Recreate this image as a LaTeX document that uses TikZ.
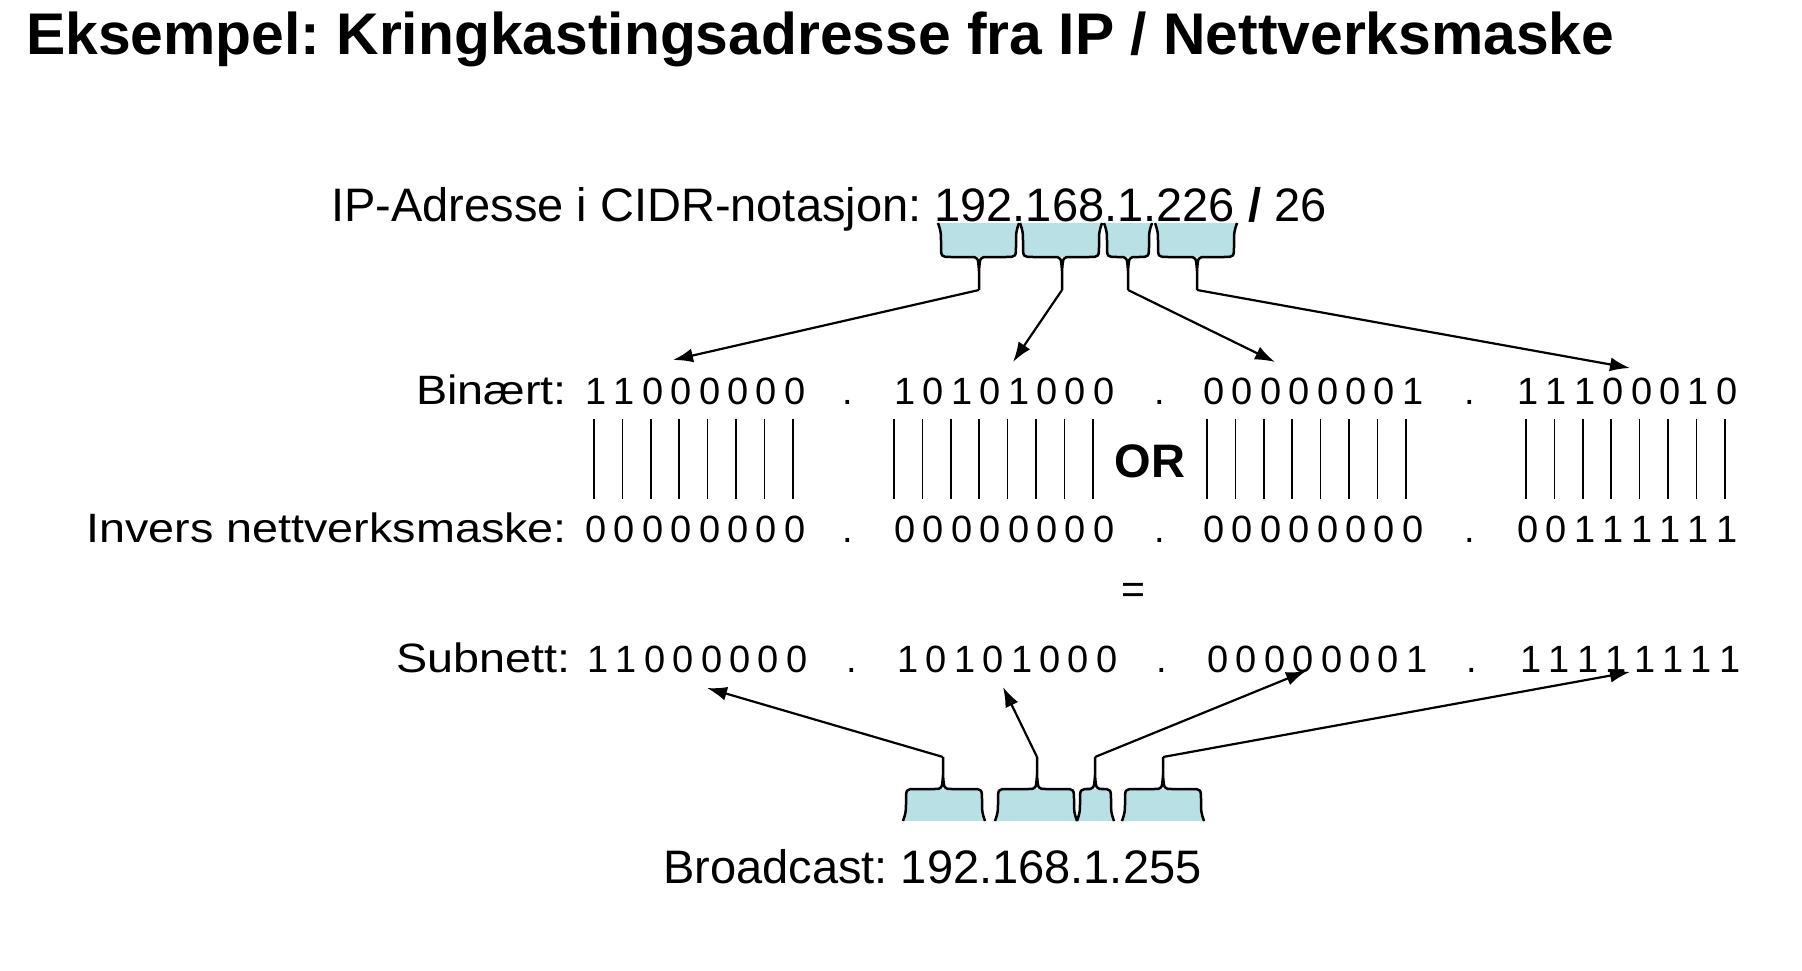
\documentclass[tikz,border=0pt]{standalone}
\usepackage{fontspec}
\setmainfont{Liberation Sans}
\newfontfamily\widesans[FakeStretch=1.14]{Liberation Sans}
\usepackage{xstring}
\usepackage{tikz}
\usetikzlibrary{arrows.meta}
\definecolor{bracefill}{RGB}{185,224,228}
\frenchspacing
\tikzset{x=1pt, y=-1pt,
    heading/.style={inner sep=0pt, anchor=base west, font=\fontsize{58.8}{70}\selectfont\bfseries},
    plain/.style={inner sep=0pt, anchor=base west, font=\fontsize{47}{56}\selectfont},
    rowlabel/.style={inner sep=0pt, anchor=base east, font=\widesans\fontsize{41}{50}\selectfont},
    bit/.style={inner sep=0pt, anchor=base, font=\fontsize{38}{46}\selectfont},
    bar/.style={line width=1.5pt},
    pointer/.style={line width=2.2pt, -{Latex[length=20pt,width=14pt]}},
    brace/.style={line width=2.5pt, line join=round}}

% brace under the address, opening upwards: left, right, tip, name
\newcommand{\ipbrace}[4]{%
    \fill[bracefill] (#1,223) .. controls (#1+3,232) .. (#1+3,245) .. controls (#1+3,257) .. (#1+13,257)
        -- (#2-13,257) .. controls (#2-3,257) .. (#2-3,245) .. controls (#2-3,232) .. (#2,223) -- cycle;
    \draw[brace] (#1,223) .. controls (#1+3,232) .. (#1+3,245) .. controls (#1+3,257) .. (#1+13,257)
        -- (#3-9,257) .. controls (#3-1,257) .. (#3,271) -- (#3,290)
        (#3,271) .. controls (#3+1,257) .. (#3+9,257)
        -- (#2-13,257) .. controls (#2-3,257) .. (#2-3,245) .. controls (#2-3,232) .. (#2,223);
    \coordinate (#4) at (#3,290);}
% brace over the broadcast address, opening downwards
\newcommand{\bcbrace}[4]{%
    \fill[bracefill] (#1,821) .. controls (#1+3,812) .. (#1+3,801) .. controls (#1+3,789) .. (#1+13,789)
        -- (#2-13,789) .. controls (#2-3,789) .. (#2-3,801) .. controls (#2-3,812) .. (#2,821) -- cycle;
    \draw[brace] (#1,821) .. controls (#1+3,812) .. (#1+3,801) .. controls (#1+3,789) .. (#1+13,789)
        -- (#3-9,789) .. controls (#3-1,789) .. (#3,775) -- (#3,757)
        (#3,775) .. controls (#3+1,789) .. (#3+9,789)
        -- (#2-13,789) .. controls (#2-3,789) .. (#2-3,801) .. controls (#2-3,812) .. (#2,821);
    \coordinate (#4) at (#3,757);}

\begin{document}
\begin{tikzpicture}
    \useasboundingbox (0,0) rectangle (1802,971);

    \node[heading] (title) at (26,55) {Eksempel: Kringkastingsadresse fra IP / Nettverksmaske};
    \node[plain] (ip) at (331,221) {IP-Adresse i CIDR-notasjon: 192.168.1.226 \textbf{/} 26};

    \ipbrace{938}{1019}{979}{ip1}
    \ipbrace{1020}{1102}{1062}{ip2}
    \ipbrace{1104}{1152}{1128}{ip3}
    \ipbrace{1155}{1237}{1197}{ip4}

    % row labels
    \node[rowlabel] (binlbl) at (567,404) {Binært:};
    \node[rowlabel] (invlbl) at (567,542) {Invers nettverksmaske:};
    \node[rowlabel] (sublbl) at (571,672) {Subnett:};

    % OR-lines under each bit
    \foreach \gx in {594,894,1207,1526}
        \foreach \i in {1,...,8}
            \draw[bar] (\gx+\i*28.4-28.4,419) -- (\gx+\i*28.4-28.4,499);

    % the bits
    \foreach \gx/\bits [count=\g] in {596/11000000, 905/10101000, 1214/00000001, 1528/11100010} {
        \foreach \i in {1,...,8} {
            \StrChar{\bits}{\i}[\d]
            \node[bit] (bin\g-\i) at (\gx+\i*28.4-28.4,404) {\d};
        }
    }
    \foreach \gx/\bits [count=\g] in {596/00000000, 905/00000000, 1214/00000000, 1528/00111111} {
        \foreach \i in {1,...,8} {
            \StrChar{\bits}{\i}[\d]
            \node[bit] (inv\g-\i) at (\gx+\i*28.4-28.4,542) {\d};
        }
    }
    \foreach \gx/\bits [count=\g] in {598/11000000, 908/10101000, 1218/00000001, 1531/11111111} {
        \foreach \i in {1,...,8} {
            \StrChar{\bits}{\i}[\d]
            \node[bit] (sub\g-\i) at (\gx+\i*28.4-28.4,672) {\d};
        }
    }
    \foreach \x [count=\k] in {848,1160,1470} {
        \node[bit] (bindot\k) at (\x,404) {.};
        \node[bit] (invdot\k) at (\x,542) {.};
    }
    \foreach \x [count=\k] in {852,1162,1472}
        \node[bit] (subdot\k) at (\x,672) {.};

    \node[inner sep=0pt, anchor=base, font=\fontsize{47}{56}\selectfont\bfseries] (or) at (1150,477) {OR};
    \node[inner sep=0pt, anchor=center, font=\fontsize{41}{50}\selectfont] (eq) at (1133,593) {=};

    \bcbrace{903}{985}{943}{bc1}
    \bcbrace{995}{1077}{1037}{bc2}
    \bcbrace{1077}{1114}{1095}{bc3}
    \bcbrace{1122}{1204}{1163}{bc4}
    \node[plain] (bc) at (663,883) {Broadcast: 192.168.1.255};

    % arrows
    \coordinate (binA) at (673,360);
    \coordinate (binB) at (1013,362);
    \coordinate (binC) at (1275,362);
    \coordinate (binD) at (1630,368);
    \coordinate (subA) at (707,688);
    \coordinate (subB) at (1003,687);
    \coordinate (subC) at (1306,671);
    \coordinate (subD) at (1630,672);
    \draw[pointer] (ip1) -- (binA);
    \draw[pointer] (ip2) -- (binB);
    \draw[pointer] (ip3) -- (binC);
    \draw[pointer] (ip4) -- (binD);
    \draw[pointer] (bc1) -- (subA);
    \draw[pointer] (bc2) -- (subB);
    \draw[pointer] (bc3) -- (subC);
    \draw[pointer] (bc4) -- (subD);
\end{tikzpicture}
\end{document}
